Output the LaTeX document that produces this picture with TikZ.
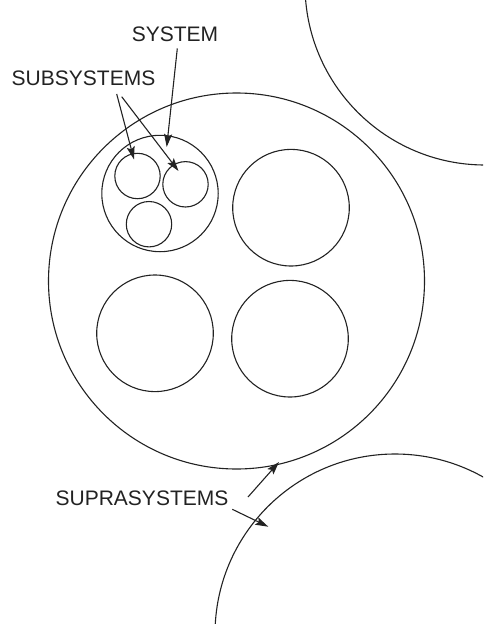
\documentclass[tikz,border=0pt]{standalone}
\usepackage{fontspec}
\setmainfont{Liberation Sans}
\usetikzlibrary{arrows.meta}
\definecolor{ink}{HTML}{222222}
\begin{document}
\begin{tikzpicture}[x=1pt,y=-1pt,
  ring/.style={draw=ink,line width=1.1pt},
  lbl/.style={text=ink,font=\fontsize{21}{25}\selectfont,inner sep=0pt},
  pointer/.style={draw=ink,line width=1.1pt,-{Stealth[length=13pt,width=8pt,inset=2.5pt]}}]
\useasboundingbox (0,0) rectangle (483,624);
\begin{scope}
\clip (0,0) rectangle (483,624);
% suprasystems
\draw[ring] (236.5,281) circle[radius=188];
\draw[ring] (485,-15) circle[radius=180];
\draw[ring] (395,634) circle[radius=180];
% system with its subsystems
\draw[ring] (160,193.5) circle[radius=58.2];
\draw[ring] (137.5,176) circle[radius=22.7];
\draw[ring] (185.5,184.3) circle[radius=22.7];
\draw[ring] (149,224.2) circle[radius=22.7];
% sibling systems
\draw[ring] (291,207.7) circle[radius=58.3];
\draw[ring] (155,333.3) circle[radius=58.3];
\draw[ring] (290,338.7) circle[radius=58.3];
\end{scope}
% labels
\node[lbl] (sys) at (175,34.5) {SYSTEM};
\node[lbl] (sub) at (83.5,78.5) {SUBSYSTEMS};
\node[lbl] (sup) at (142,498) {SUPRASYSTEMS};
% arrow ends
\coordinate (sysA) at (177.3,48.5);
\coordinate (sysB) at (166.7,147);
\coordinate (subA1) at (116.7,94);
\coordinate (subB1) at (134,159.5);
\coordinate (subA2) at (121.7,96.7);
\coordinate (subB2) at (178.5,171);
\coordinate (supA1) at (248,497);
\coordinate (supB1) at (279,462);
\coordinate (supA2) at (232.3,509.3);
\coordinate (supB2) at (268.3,526.7);
\draw[pointer] (sysA) -- (sysB);
\draw[pointer] (subA1) -- (subB1);
\draw[pointer] (subA2) -- (subB2);
\draw[pointer] (supA1) -- (supB1);
\draw[pointer] (supA2) -- (supB2);
\end{tikzpicture}
\end{document}
